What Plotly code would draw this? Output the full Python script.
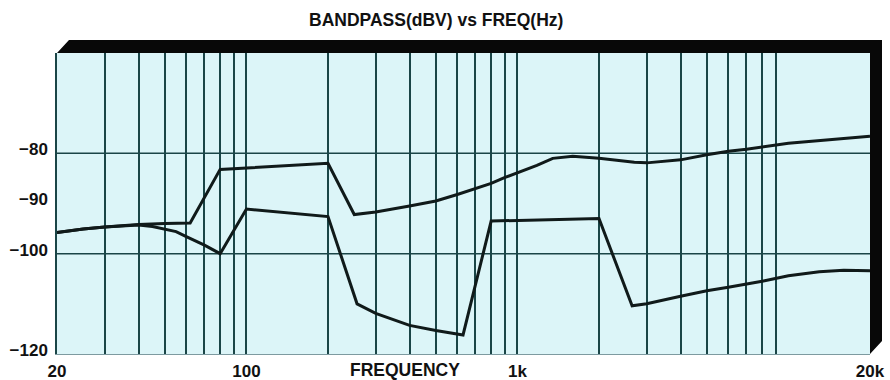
import plotly.graph_objects as go

# readings from the chart (Hz, dBV)
freq_a = [20, 25, 30, 40, 50, 62, 80, 200, 250, 300, 400, 500, 600, 700, 800, 900,
          1000, 1180, 1350, 1600, 2000, 2700, 3000, 4000, 5000, 6000, 7000, 8000,
          9000, 10000, 20000]
dbv_a = [-95.8, -95.1, -94.7, -94.2, -94.0, -93.9, -83.2, -82.0, -92.2, -91.7, -90.5,
         -89.5, -88.2, -87.1, -86.0, -84.8, -83.9, -82.4, -81.0, -80.6, -81.0, -81.8,
         -81.9, -81.3, -80.3, -79.6, -79.2, -78.8, -78.4, -78.0, -76.6]

freq_b = [20, 25, 30, 40, 45, 55, 60, 70, 80, 100, 200, 256, 300, 400, 500, 630, 800,
          2000, 2650, 3000, 4000, 5000, 6000, 8000, 10000, 13000, 16000, 20000]
dbv_b = [-95.8, -95.1, -94.7, -94.3, -94.6, -95.6, -96.6, -98.3, -100.0, -91.1, -92.6,
         -110.0, -111.9, -114.3, -115.3, -116.2, -93.5, -93.0, -110.4, -110.0, -108.5,
         -107.4, -106.7, -105.5, -104.4, -103.6, -103.3, -103.4]

# log grid positions and the labelled ones
grid_freqs = [m * 10 ** e for e in (1, 2, 3) for m in range(1, 10)
              if 20 <= m * 10 ** e <= 10000] + [20000]
label_freqs = {20: "20", 100: "100", 1000: "1k", 10000: "10k", 20000: "20k"}
tick_text = [label_freqs.get(f, "") for f in grid_freqs]

y_ticks = [-120, -100, -90, -80]
y_text = ["\u2212120", "\u2212100", "\u221290", "\u221280"]
y_grid = [-100, -80]

INK = "#101a1a"
GRID = "#1a4547"
BG = "#dcf5f8"
FONT = "Liberation Sans, Arial, sans-serif"

fig = go.Figure()
for fx, fy in ((freq_a, dbv_a), (freq_b, dbv_b)):
    fig.add_trace(go.Scatter(x=fx, y=fy, mode="lines",
                             line=dict(color=INK, width=3), showlegend=False))

for yv in y_grid:
    fig.add_shape(type="line", xref="paper", x0=0, x1=1, y0=yv, y1=yv,
                  line=dict(color=GRID, width=1.5), layer="below")

# black 3d frame on top and right side
W, H = 813, 301
dx, dy = 12 / W, 13 / H
fig.add_shape(type="path", xref="paper", yref="paper",
              path=f"M 0,1 L {dx},{1+dy} L {1+dx},{1+dy} L {1+dx},{dy} L 1,0 L 1,1 Z",
              fillcolor="#080808", line=dict(width=0))

fig.add_annotation(text="<b>BANDPASS(dBV) vs FREQ(Hz)</b>", xref="paper", yref="paper",
                   x=(436 - 57) / W, y=1 + 33 / H, xanchor="center", yanchor="middle",
                   showarrow=False, font=dict(size=17.5, color="#111"))
fig.add_annotation(text="<b>FREQUENCY</b>", xref="paper", yref="paper",
                   x=(405 - 57) / W, y=-16 / H, xanchor="center", yanchor="middle",
                   showarrow=False, font=dict(size=17.5, color="#111"))

fig.update_xaxes(type="log", range=[1.30103, 4.30103], tickmode="array",
                 tickvals=grid_freqs, ticktext=tick_text, showgrid=True,
                 gridcolor=GRID, gridwidth=1.5, showline=True, linecolor="#7d9aa0",
                 linewidth=1, ticks="", zeroline=False, automargin=False,
                 ticklabeloverflow="allow", ticklabelstandoff=2,
                 tickfont=dict(size=17, color="#111"))
fig.update_yaxes(range=[-120, -60], tickmode="array", tickvals=y_ticks, ticktext=y_text,
                 showgrid=False, zeroline=False, showline=True, linecolor=GRID,
                 linewidth=1.5, ticks="", automargin=False, ticklabelstandoff=4,
                 ticklabelshift=-4, tickfont=dict(size=17, color="#111"))

fig.update_layout(width=890, height=380, margin=dict(l=57, r=20, t=53, b=26),
                  plot_bgcolor=BG, paper_bgcolor="white",
                  font=dict(family=FONT, color="#111", weight="bold"))
fig.write_html("out.html", config={"displayModeBar": False},
               post_script="document.body.style.margin = '0';")
